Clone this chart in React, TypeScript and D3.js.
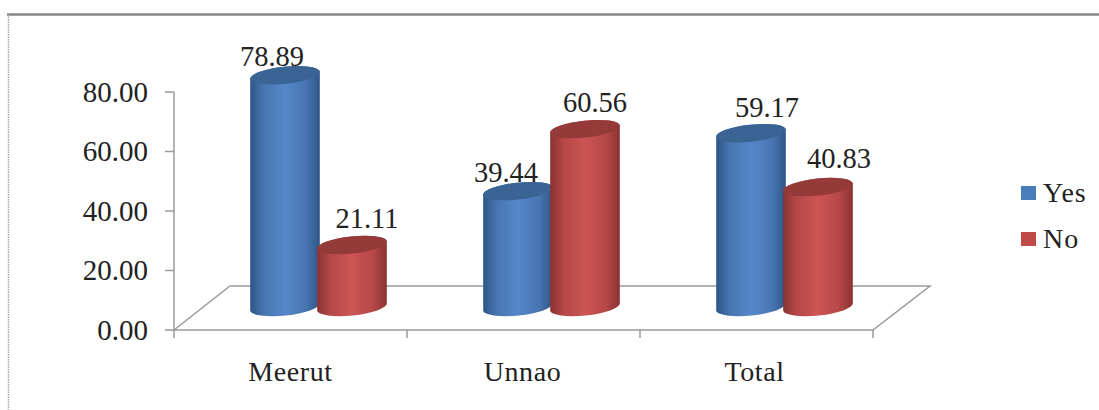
import React from "react";
import * as d3 from "d3";

const categories = ["Meerut", "Unnao", "Total"];
const seriesNames = ["Yes", "No"];
const yesValues = [78.89, 39.44, 59.17];
const noValues = [21.11, 60.56, 40.83];
const yTicks = [0, 20, 40, 60, 80];

// Label nudges in px, relative to the top centre of each cylinder: [Yes, No] per category.
const labelDx = [[-13, 15], [-12, 10], [16, 21]];
const labelDy = [[-9, -17], [-9, -17], [-16, -19]];

const BLUE = { mid: "#5587c9", edge: "#2f5587", top: "#3a6494", swatch: "#4a7ebb" };
const RED = { mid: "#cd5454", edge: "#8a3332", top: "#943a38", swatch: "#be4b48" };
const TEXT = "#222";
const AXIS = "#9a9a9a";
const FONT = "'Liberation Serif', 'Times New Roman', serif";

const WIDTH = 1099;
const HEIGHT = 410;

export default function App() {
  const yAxis = d3.scaleLinear().domain([0, 80]).range([330, 92]);
  // Cylinders sit on the floor's mid-depth, so their scale is shifted and slightly compressed.
  const yBar = d3.scaleLinear().domain([0, 80]).range([307, 72]);
  const x = d3.scaleBand<string>().domain(categories).range([174, 873]).paddingInner(0).paddingOuter(0);
  const band = x.bandwidth();
  const bar = { offset: 76, width: 70, step: 67, rx: 35, ry: 8.5, tilt: -6 };
  const rise = bar.rx * Math.sin((-bar.tilt * Math.PI) / 180);
  const run = bar.rx * Math.cos((-bar.tilt * Math.PI) / 180);

  const floor =
    d3.line()([
      [x.range()[0], yAxis(0)],
      [x.range()[0] + 56, yAxis(0) - 44],
      [x.range()[1] + 57, yAxis(0) - 44],
      [x.range()[1], yAxis(0)],
    ]) + "Z";

  const cylinder = (cat: string, si: number, value: number, c: typeof BLUE, key: string) => {
    const cx = (x(cat) as number) + bar.offset + bar.rx + si * bar.step;
    const top = yBar(value);
    const base = yBar(0);
    const side = [
      `M${cx - run},${top + rise}`,
      `L${cx - run},${base + rise}`,
      `A${bar.rx},${bar.ry} ${bar.tilt} 0 0 ${cx + run},${base - rise}`,
      `L${cx + run},${top - rise}`,
      `A${bar.rx},${bar.ry} ${bar.tilt} 0 0 ${cx - run},${top + rise}`,
      "Z",
    ].join(" ");
    return (
      <g key={key}>
        <path d={side} fill={`url(#grad-${si})`} />
        <ellipse
          cx={cx}
          cy={top}
          rx={bar.rx}
          ry={bar.ry}
          fill={c.top}
          transform={`rotate(${bar.tilt} ${cx} ${top})`}
        />
      </g>
    );
  };

  const gradient = (id: string, c: typeof BLUE) => (
    <linearGradient id={id} x1="0" x2="1" y1="0" y2="0">
      <stop offset="0" stopColor={c.edge} />
      <stop offset="0.2" stopColor={d3.interpolateRgb(c.edge, c.mid)(0.65)} />
      <stop offset="0.5" stopColor={c.mid} />
      <stop offset="0.8" stopColor={d3.interpolateRgb(c.edge, c.mid)(0.65)} />
      <stop offset="1" stopColor={c.edge} />
    </linearGradient>
  );

  const series = [
    { values: yesValues, colors: BLUE },
    { values: noValues, colors: RED },
  ];

  return (
    <svg
      width={WIDTH}
      height={HEIGHT}
      style={{ position: "absolute", left: 0, top: 0, background: "#fff" }}
      fontFamily={FONT}
    >
      <defs>
        {gradient("grad-0", BLUE)}
        {gradient("grad-1", RED)}
      </defs>

      {/* Outer frame: top edge and dotted left edge only */}
      <line x1={7} x2={WIDTH} y1={14.5} y2={14.5} stroke="#858585" strokeWidth={2.5} />
      <line x1={8.5} x2={8.5} y1={14} y2={HEIGHT} stroke="#a8a8a8" strokeWidth={1.5} strokeDasharray="1.5 1" />

      {/* Floor and axes */}
      <path d={floor} fill="none" stroke={AXIS} strokeWidth={1.5} />
      <line x1={174} x2={174} y1={yAxis(80)} y2={yAxis(0)} stroke={AXIS} strokeWidth={1.5} />
      {yTicks.map((t) => (
        <g key={t}>
          <line x1={165} x2={174} y1={yAxis(t)} y2={yAxis(t)} stroke={AXIS} strokeWidth={1.5} />
          <text x={148} y={yAxis(t) + 9.5} textAnchor="end" fontSize={29} fill={TEXT}>
            {d3.format(".2f")(t)}
          </text>
        </g>
      ))}
      {[...categories.map((c) => x(c) as number), x.range()[1]].map((tx) => (
        <line key={tx} x1={tx} x2={tx} y1={yAxis(0)} y2={yAxis(0) + 8} stroke={AXIS} strokeWidth={1.5} />
      ))}
      {categories.map((c, i) => (
        <text
          key={c}
          x={(x(c) as number) + band / 2 + [0, -1, -2][i]}
          y={381}
          textAnchor="middle"
          fontSize={28}
          letterSpacing={0.6}
          fill={TEXT}
        >
          {c}
        </text>
      ))}

      {/* Cylinders */}
      {categories.map((c, i) =>
        series.map((s, si) => cylinder(c, si, s.values[i], s.colors, `${c}-${si}`))
      )}

      {/* Value labels */}
      {categories.map((c, i) =>
        series.map((s, si) => (
          <text
            key={`${c}-label-${si}`}
            x={(x(c) as number) + bar.offset + bar.rx + si * bar.step + labelDx[i][si]}
            y={yBar(s.values[i]) + labelDy[i][si]}
            textAnchor="middle"
            fontSize={28.5}
            fill={TEXT}
          >
            {d3.format(".2f")(s.values[i])}
          </text>
        ))
      )}

      {/* Legend */}
      {seriesNames.map((name, i) => (
        <g key={name}>
          <rect x={1021} y={186 + i * 46} width={15} height={14} fill={series[i].colors.swatch} />
          <text x={1043} y={202 + i * 46} fontSize={28} letterSpacing={1} fill={TEXT}>
            {name}
          </text>
        </g>
      ))}
    </svg>
  );
}
